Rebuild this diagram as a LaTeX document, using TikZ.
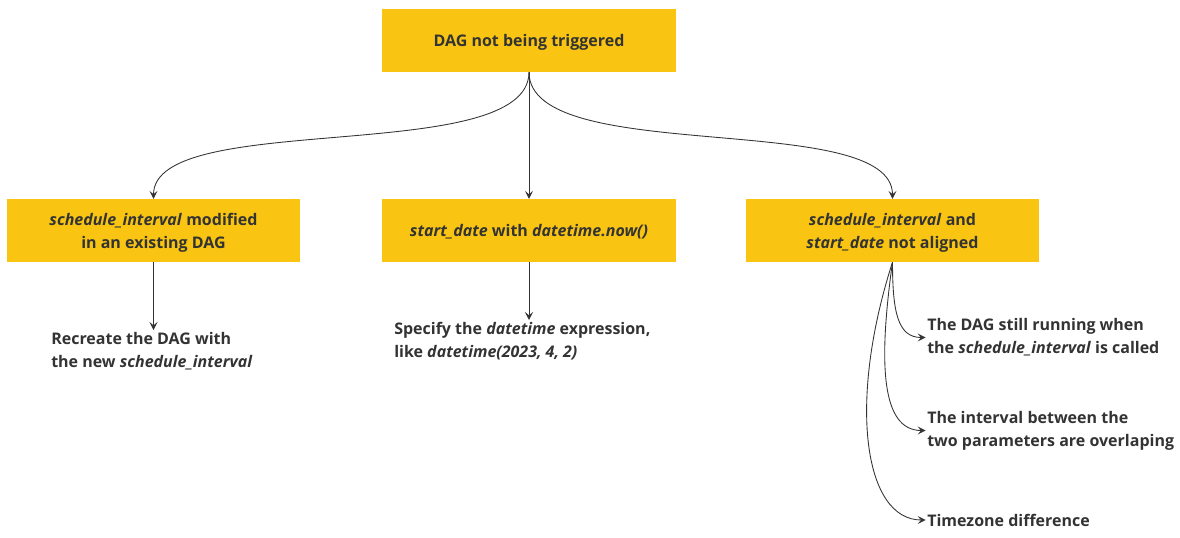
\documentclass[tikz,border=0pt]{standalone}
\usepackage{fontspec}
\setmainfont{Open Sans}
\usetikzlibrary{arrows.meta}
\definecolor{boxyellow}{RGB}{249,197,18}
\definecolor{inkgray}{RGB}{51,51,51}
\newcommand{\code}[1]{\textit{#1}}

\begin{document}
\begin{tikzpicture}[x=0.75pt,y=-0.75pt,
    font=\fontsize{12}{17.25}\selectfont\bfseries, text=inkgray,
    box/.style={fill=boxyellow,minimum width=220pt,minimum height=47pt,align=center,inner sep=0pt,text depth=0pt},
    note/.style={align=left,inner sep=0pt},
    link/.style={draw=inkgray,line width=0.65pt,-{Stealth[length=6pt,width=6pt,inset=2.5pt]}}]
            \useasboundingbox (0,0) rectangle (1180,537);

            \node[box] (dag) at (529,40.5) {DAG not being triggered};
            \node[box] (modified) at (153.5,230.5) {\code{schedule\_interval} modified\\in an existing DAG};
            \node[box] (now) at (529,230.5) {\code{start\_date} with \code{datetime.now()}};
            \node[box] (aligned) at (892.5,230.5) {\code{schedule\_interval} and\\\code{start\_date} not aligned};

            \node[note,anchor=north west] (recreate) at (51,332) {Recreate the DAG with\\the new \code{schedule\_interval}};
            \node[note,anchor=north west] (specify) at (394,322) {Specify the \code{datetime} expression,\\like \code{datetime(2023, 4, 2)}};
            \node[note,anchor=west] (running) at (927,337.5) {The DAG still running when\\the \code{schedule\_interval} is called};
            \node[note,anchor=west] (overlap) at (927,430.5) {The interval between the\\two parameters are overlaping};
            \node[note,anchor=west] (timezone) at (927,520) {Timezone difference};

            \draw[link] (dag.south) .. controls +(0,95) and +(0,-90) .. (modified.north);
            \draw[link] (dag.south) -- (now.north);
            \draw[link] (dag.south) .. controls +(0,95) and +(0,-90) .. (aligned.north);

            \draw[link] (modified.south) -- (modified.south |- 0,330);
            \draw[link] (now.south) -- (now.south |- 0,320);

            \draw[link] (aligned.south) .. controls +(0,50) and +(-28,0) .. ([xshift=-1pt]running.west);
            \draw[link] (aligned.south) .. controls +(-14,100) and +(-45,0) .. ([xshift=-1pt]overlap.west);
            \draw[link] (aligned.south) .. controls +(-45,140) and +(-62,0) .. ([xshift=-1pt]timezone.west);
        \end{tikzpicture}
\end{document}
